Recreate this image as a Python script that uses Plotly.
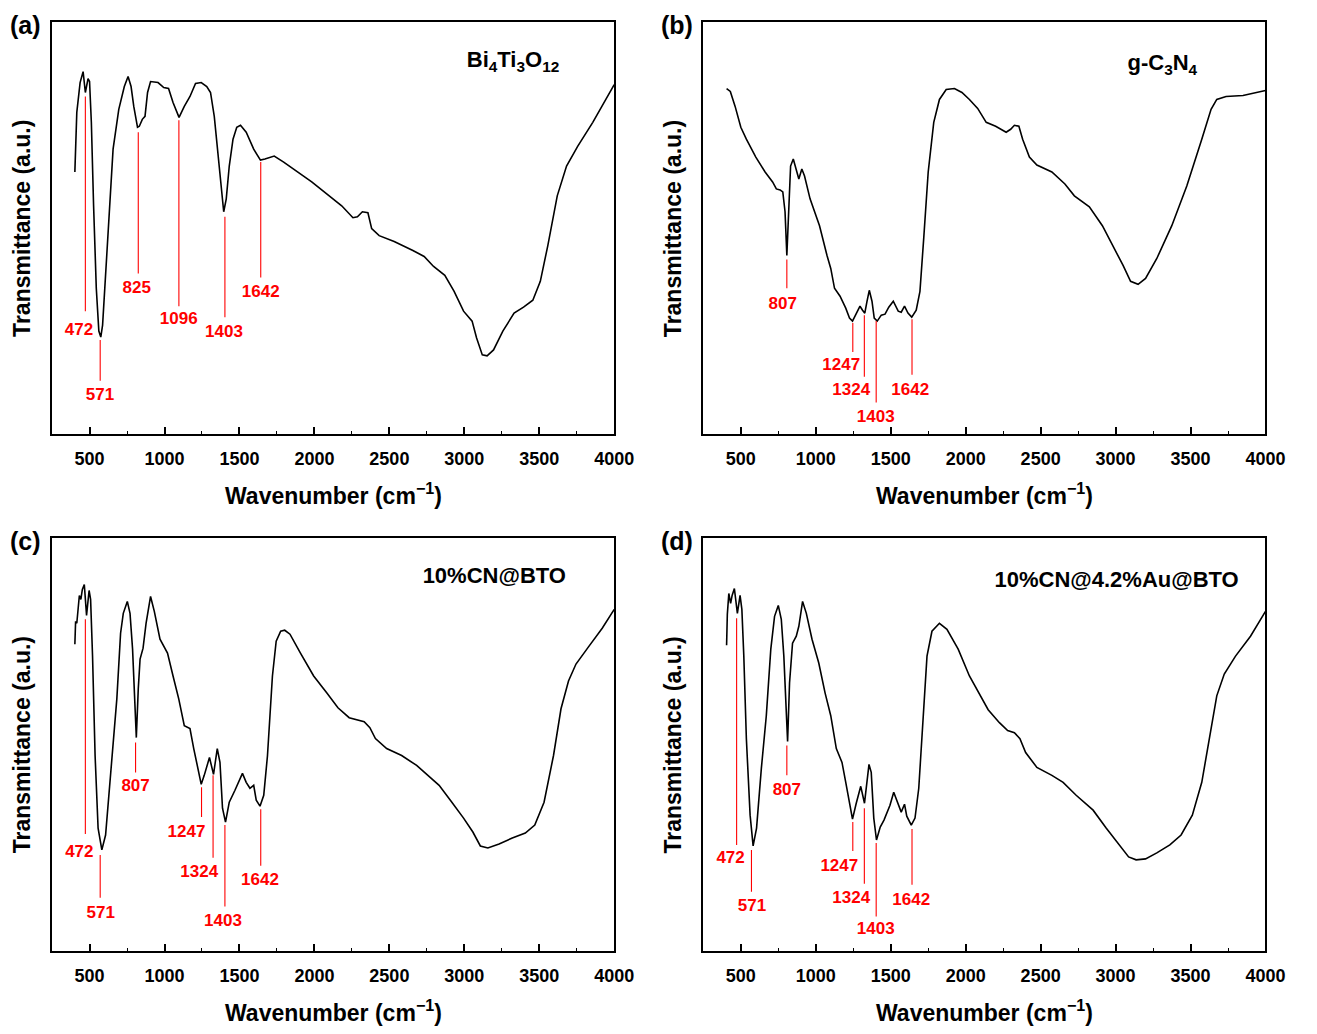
import plotly.graph_objects as go

# ---------------- data (wavenumber cm^-1, transmittance a.u.) ----------------
wn_a = [402, 415, 437, 457, 472, 490, 500, 512, 527, 545, 562, 575, 587, 607, 632, 657, 695, 732, 757, 777,
        795, 820, 832, 852, 870, 887, 907, 957, 995, 1027, 1057, 1097, 1132, 1170, 1207, 1245, 1282, 1307, 1332, 1357,
        1377, 1395, 1412, 1432, 1457, 1482, 1507, 1545, 1595, 1640, 1670, 1732, 1795, 1982, 2182, 2257, 2287, 2320, 2357, 2382,
        2432, 2532, 2657, 2732, 2795, 2870, 2932, 2995, 3052, 3082, 3120, 3152, 3195, 3257, 3332, 3395, 3457, 3507, 3557, 3620,
        3682, 3757, 3857, 4000]
t_a = [264, 324, 354, 365, 344, 358, 355, 314, 230, 147, 104, 98, 110, 164, 230, 287, 327, 350, 360, 350,
       330, 309, 310, 317, 320, 344, 355, 354, 349, 348, 334, 319, 330, 340, 353, 354, 350, 344, 320, 280,
       250, 224, 237, 270, 297, 309, 311, 304, 287, 276, 277, 280, 274, 254, 230, 218, 219, 224, 223, 207,
       200, 194, 185, 179, 169, 160, 144, 124, 114, 97, 80, 79, 85, 104, 122, 128, 135, 154, 190, 240,
       270, 290, 314, 352]

wn_b = [405, 430, 462, 500, 537, 600, 662, 712, 737, 762, 780, 795, 807, 820, 832, 850, 870, 887, 907, 925,
        962, 1025, 1075, 1100, 1125, 1162, 1200, 1225, 1245, 1270, 1295, 1312, 1327, 1342, 1357, 1375, 1390, 1410, 1437, 1462,
        1487, 1517, 1550, 1570, 1592, 1615, 1640, 1670, 1695, 1720, 1750, 1787, 1825, 1870, 1925, 1975, 2025, 2080, 2137, 2200,
        2270, 2300, 2325, 2355, 2380, 2425, 2475, 2575, 2662, 2725, 2825, 2912, 2975, 3050, 3100, 3150, 3200, 3275, 3375, 3475,
        3575, 3637, 3675, 3737, 3850, 4000]
t_b = [348, 345, 330, 309, 297, 279, 264, 254, 247, 246, 244, 224, 180, 224, 270, 277, 267, 257, 267, 260,
       237, 210, 180, 167, 147, 139, 127, 117, 114, 122, 129, 125, 122, 134, 145, 134, 117, 114, 120, 121,
       128, 134, 124, 123, 129, 122, 118, 125, 144, 197, 264, 314, 337, 347, 348, 344, 337, 328, 314, 310,
       304, 307, 311, 310, 297, 279, 271, 264, 252, 240, 229, 210, 192, 170, 154, 151, 157, 177, 210, 250,
       297, 327, 337, 340, 341, 346]

wn_c = [402, 407, 415, 422, 432, 442, 452, 465, 480, 497, 507, 520, 537, 557, 582, 607, 632, 662, 682, 707,
        725, 752, 770, 787, 802, 812, 825, 837, 857, 877, 907, 932, 970, 1020, 1057, 1095, 1132, 1170, 1195, 1220,
        1245, 1265, 1300, 1327, 1352, 1370, 1387, 1407, 1432, 1470, 1495, 1520, 1545, 1570, 1595, 1612, 1637, 1662, 1687, 1720,
        1745, 1775, 1802, 1837, 1907, 1995, 2082, 2157, 2232, 2295, 2332, 2370, 2407, 2482, 2582, 2682, 2757, 2832, 2907, 2995,
        3057, 3107, 3157, 3232, 3320, 3407, 3470, 3532, 3595, 3645, 3695, 3745, 3832, 3920, 4000]
t_c = [309, 332, 330, 344, 358, 354, 364, 369, 338, 363, 354, 297, 197, 124, 102, 117, 164, 214, 254, 320,
       340, 352, 340, 304, 250, 215, 264, 294, 305, 330, 357, 342, 314, 300, 277, 254, 227, 224, 204, 187,
       168, 177, 195, 178, 204, 190, 144, 130, 150, 162, 170, 179, 170, 164, 167, 152, 146, 157, 197, 277,
       312, 322, 323, 319, 300, 277, 260, 245, 235, 232, 231, 225, 214, 204, 197, 187, 177, 167, 152, 134,
       120, 106, 104, 108, 114, 119, 127, 150, 197, 244, 272, 289, 307, 325, 344]

wn_d = [405, 410, 420, 432, 442, 457, 477, 495, 507, 520, 537, 562, 582, 605, 637, 670, 700, 725, 750, 770,
        787, 800, 812, 825, 845, 870, 887, 912, 937, 975, 1020, 1062, 1100, 1137, 1175, 1200, 1225, 1245, 1270, 1300,
        1325, 1340, 1355, 1370, 1387, 1405, 1430, 1455, 1495, 1520, 1545, 1570, 1592, 1607, 1637, 1662, 1687, 1717, 1742, 1775,
        1825, 1875, 1950, 2025, 2100, 2150, 2225, 2280, 2325, 2362, 2400, 2475, 2575, 2650, 2737, 2850, 2937, 3025, 3087, 3137,
        3200, 3275, 3362, 3437, 3512, 3575, 3625, 3675, 3725, 3800, 3900, 4000]
t_d = [308, 339, 360, 350, 358, 365, 340, 358, 344, 297, 214, 137, 106, 124, 184, 237, 304, 337, 348, 334,
       297, 247, 211, 270, 310, 317, 327, 352, 340, 314, 290, 260, 237, 204, 190, 170, 147, 133, 149, 166,
       149, 167, 188, 180, 134, 112, 125, 132, 147, 160, 149, 140, 148, 136, 127, 134, 164, 237, 297, 322,
       330, 324, 304, 277, 257, 243, 230, 222, 220, 214, 200, 185, 177, 170, 157, 142, 124, 107, 95, 92,
       93, 99, 107, 117, 137, 170, 214, 257, 279, 297, 317, 342]

# peak marker lines: wavenumber, line top, line bottom, label x, label y
peaks_a = ["472", "571", "825", "1096", "1403", "1642"]
pk_a_x = [472, 571, 825, 1096, 1403, 1642]
pk_a_top = [340, 95, 304, 316, 219, 274]
pk_a_bot = [124, 54, 162, 129, 118, 158]
lb_a_x = [430, 570, 815, 1095, 1397, 1642]
lb_a_y = [104, 39, 147, 115, 102, 143]

peaks_b = ["807", "1247", "1324", "1403", "1642"]
pk_b_x = [807, 1247, 1324, 1403, 1642]
pk_b_top = [176, 112, 120, 114, 116]
pk_b_bot = [147, 83, 58, 32, 60]
lb_b_x = [780, 1170, 1237, 1400, 1630]
lb_b_y = [130, 69, 44, 17, 44]

peaks_c = ["472", "571", "807", "1247", "1324", "1403", "1642"]
pk_c_x = [472, 571, 807, 1247, 1324, 1403, 1642]
pk_c_top = [334, 97, 210, 165, 177, 127, 143]
pk_c_bot = [118, 54, 180, 135, 94, 45, 86]
lb_c_x = [432, 575, 807, 1147, 1232, 1390, 1637]
lb_c_y = [99, 38, 166, 119, 79, 30, 71]

peaks_d = ["472", "571", "807", "1247", "1324", "1403", "1642"]
pk_d_x = [472, 571, 807, 1247, 1324, 1403, 1642]
pk_d_top = [335, 102, 207, 130, 144, 109, 123]
pk_d_bot = [107, 60, 177, 101, 68, 35, 67]
lb_d_x = [432, 575, 807, 1157, 1237, 1400, 1637]
lb_d_y = [93, 45, 162, 85, 53, 22, 51]

samples = ["Bi<sub>4</sub>Ti<sub>3</sub>O<sub>12</sub>", "g-C<sub>3</sub>N<sub>4</sub>",
           "10%CN@BTO", "10%CN@4.2%Au@BTO"]
sample_x = [3325, 3312, 3200, 3007]
sample_y = [375, 372, 376, 372]
panel_tags = ["(a)", "(b)", "(c)", "(d)"]

x_ticks = [500, 1000, 1500, 2000, 2500, 3000, 3500, 4000]
x_range = [250, 4000]

# ---------------- figure ----------------
# the page body keeps its default 8px margin; the figure is sized so that the
# page fits exactly in the 1317x1034 window (no overflow, no scrollbars)
OFF = 8
W, H = 1317 - 2 * OFF, 1034 - 2 * OFF
KX = (W - 1) / (1315 - OFF)   # tiny squeeze so the right-most tick label stays inside
KY = 0.994                    # tiny squeeze so the bottom axis titles stay inside
FONT = "Liberation Sans, Arial, sans-serif"


def fx(px):
    return (px - OFF) * KX / W


def fy(py):
    return 1 - (py - OFF) * KY / H


fig = go.Figure()

panels = [
    (wn_a, t_a, peaks_a, pk_a_x, pk_a_top, pk_a_bot, lb_a_x, lb_a_y),
    (wn_b, t_b, peaks_b, pk_b_x, pk_b_top, pk_b_bot, lb_b_x, lb_b_y),
    (wn_c, t_c, peaks_c, pk_c_x, pk_c_top, pk_c_bot, lb_c_x, lb_c_y),
    (wn_d, t_d, peaks_d, pk_d_x, pk_d_top, pk_d_bot, lb_d_x, lb_d_y),
]

# layout of the four plot boxes in window pixels (left, right, top, bottom)
boxes = [(53, 627, 22, 437), (718, 1292, 22, 437), (53, 627, 541, 957), (718, 1292, 541, 957)]

for i, (wx, ty, labs, px, ptop, pbot, lx, ly) in enumerate(panels):
    n = "" if i == 0 else str(i + 1)
    xa, ya = "x" + n, "y" + n
    fig.add_trace(go.Scatter(x=wx, y=ty, mode="lines", line=dict(color="black", width=1.6),
                             xaxis=xa, yaxis=ya, showlegend=False, hoverinfo="skip"))
    lx_s, ly_s = [], []
    for xv, a, b in zip(px, ptop, pbot):
        lx_s += [xv, xv, None]
        ly_s += [a, b, None]
    fig.add_trace(go.Scatter(x=lx_s, y=ly_s, mode="lines", line=dict(color="#ff0000", width=1.1),
                             xaxis=xa, yaxis=ya, showlegend=False, hoverinfo="skip"))
    fig.add_trace(go.Scatter(x=lx, y=ly, mode="text", text=["<b>" + s + "</b>" for s in labs],
                             textfont=dict(family=FONT, size=17, color="#ff0000"),
                             textposition="middle center",
                             xaxis=xa, yaxis=ya, showlegend=False, hoverinfo="skip"))
    fig.add_trace(go.Scatter(x=[sample_x[i]], y=[sample_y[i]], mode="text", text=["<b>" + samples[i] + "</b>"],
                             textfont=dict(family=FONT, size=22, color="black"),
                             textposition="middle center",
                             xaxis=xa, yaxis=ya, showlegend=False, hoverinfo="skip"))

    l, r, t, b = boxes[i]
    ymax = b - t
    fig.update_layout(**{
        "xaxis" + n: dict(domain=[fx(l), fx(r)], anchor=ya, range=x_range, tickvals=x_ticks,
                          ticks="inside", ticklen=8, tickwidth=1.5, tickcolor="black",
                          ticklabelstandoff=7,
                          minor=dict(dtick=250, tick0=0, ticks="inside", ticklen=4, tickwidth=1.3, tickcolor="black"),
                          showline=True, linecolor="black", linewidth=1.6, mirror=True,
                          showgrid=False, zeroline=False,
                          tickfont=dict(family=FONT, size=18, color="black", weight="bold")),
        "yaxis" + n: dict(domain=[fy(b), fy(t)], anchor=xa, range=[0, ymax],
                          showticklabels=False, ticks="", showline=True, linecolor="black", linewidth=1.6,
                          mirror=True, showgrid=False, zeroline=False),
    })
    # axis titles and panel tags
    fig.add_annotation(x=fx((l + r) / 2), y=fy(b + 60), xref="paper", yref="paper",
                       text="<b>Wavenumber (cm<sup>\u22121</sup>)</b>", showarrow=False,
                       font=dict(family=FONT, size=23, color="black"), xanchor="center", yanchor="middle")
    fig.add_annotation(x=fx(l - 31), y=fy((t + b) / 2), xref="paper", yref="paper",
                       text="<b>Transmittance (a.u.)</b>", showarrow=False, textangle=-90,
                       font=dict(family=FONT, size=23, color="black"), xanchor="center", yanchor="middle")
    fig.add_annotation(x=fx(l - 27), y=fy(t + 3), xref="paper", yref="paper",
                       text="<b>" + panel_tags[i] + "</b>", showarrow=False,
                       font=dict(family=FONT, size=25, color="black"), xanchor="center", yanchor="middle")

fig.update_layout(width=W, height=H, margin=dict(l=0, r=0, t=0, b=0),
                  paper_bgcolor="white", plot_bgcolor="white", showlegend=False)

fig.write_html("out.html")
